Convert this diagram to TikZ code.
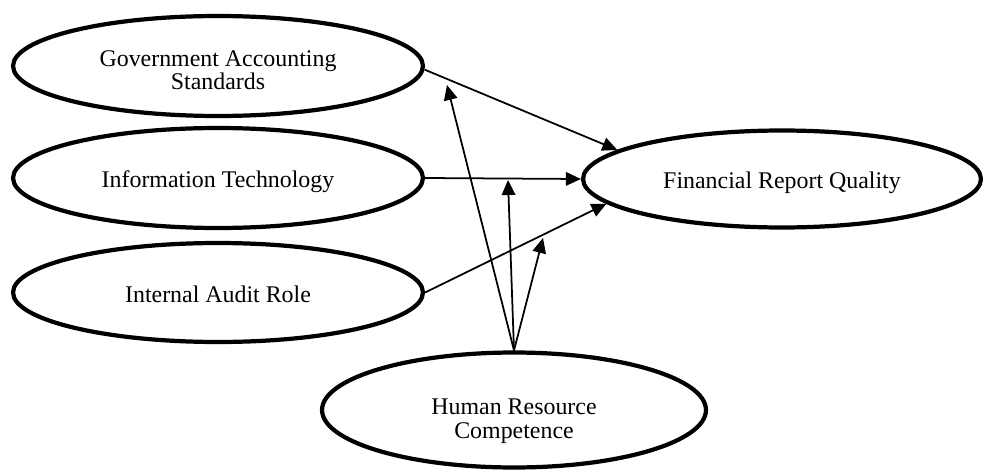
\documentclass[tikz,border=0pt]{standalone}
\usepackage{fontspec}
\setmainfont{Liberation Serif}
\usetikzlibrary{shapes.geometric,arrows.meta}
\begin{document}
\begin{tikzpicture}[x=0.02cm,y=-0.02cm,
  var/.style={draw, ellipse, line width=2.4pt, inner sep=0pt, align=center,
    font=\fontsize{13.6}{13.6}\selectfont, text height=0.38cm, text depth=0cm},
  link/.style={line width=1pt, -{Triangle[length=0.3cm,width=0.27cm]}}]
\useasboundingbox (0,0) rectangle (983,473);
\node[var, minimum width=8.2cm, minimum height=2cm, text height=0.96cm] (gas) at (218,66) {Government Accounting\\Standards};
\node[var, minimum width=8.2cm, minimum height=2cm] (it) at (218,178) {Information Technology};
\node[var, minimum width=8.2cm, minimum height=1.98cm] (iar) at (218,292.5) {Internal Audit Role};
\node[var, minimum width=7.96cm, minimum height=1.94cm] (frq) at (782,179) {Financial Report Quality};
\node[var, minimum width=7.68cm, minimum height=2.3cm, text height=1.14cm] (hrc) at (514,410) {Human Resource\\Competence};
\coordinate (t1) at (447,85);
\coordinate (t2) at (508,180);
\coordinate (t3) at (543,238);
\draw[link] (gas.-1.5) -- (frq.170.6);
\draw[link] (it.east) -- (frq.west);
\draw[link] (iar.east) -- (frq.188.7);
\draw[link] (hrc.north) -- (t1);
\draw[link] (hrc.north) -- (t2);
\draw[link] (hrc.north) -- (t3);
\end{tikzpicture}
\end{document}
